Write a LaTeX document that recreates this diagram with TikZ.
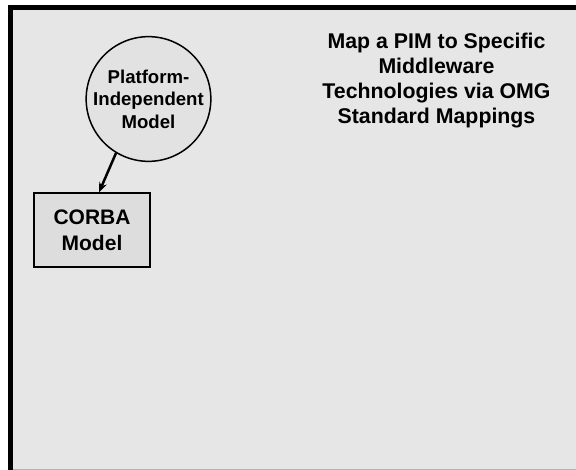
\documentclass[tikz,border=0pt]{standalone}
\usepackage{fontspec}
\setmainfont{Liberation Sans}
\usetikzlibrary{arrows.meta,calc}
\definecolor{bgfill}{HTML}{E6E6E6}
\definecolor{circfill}{HTML}{E2E2E2}
\definecolor{boxfill}{HTML}{DDDDDD}
\begin{document}
\begin{tikzpicture}[x=1pt,y=-1pt,
  pimnode/.style={circle,draw=black,line width=1.5pt,fill=circfill,minimum size=120pt,inner sep=0pt,align=center,font=\fontsize{18.6}{22.5}\selectfont\bfseries},
  boxnode/.style={rectangle,draw=black,line width=1.5pt,fill=boxfill,minimum width=116pt,minimum height=74pt,inner sep=0pt,align=center,font=\fontsize{21}{26}\selectfont\bfseries},
  titlenode/.style={align=center,inner sep=0pt,font=\fontsize{21.3}{25}\selectfont\bfseries},
  conn/.style={line width=2.5pt,-{Stealth[length=10pt,width=8pt]}}]
\useasboundingbox (0,0) rectangle (576,470);
\fill[white] (0,0) rectangle (576,470);
\fill[bgfill] (10.5,7.5) rectangle (580,470);
\draw[gray!60,line width=1.5pt] (10.5,469.3) -- (580,469.3);
\draw[black,line width=4.5pt] (10.5,475) -- (10.5,7.5) -- (580,7.5);
\node[pimnode] (pim) at (148.5,99) {Platform-\\Independent\\Model};
\node[boxnode] (corba) at (92,230) {CORBA\\Model};
\node[titlenode] (title) at (436.5,80.5) {Map a PIM to Specific\\Middleware\\Technologies via OMG\\Standard Mappings};
\coordinate (tip) at ($(corba.north west)!0.56!(corba.north east)$);
\draw[conn] (pim.239) -- (tip);
\end{tikzpicture}
\end{document}
